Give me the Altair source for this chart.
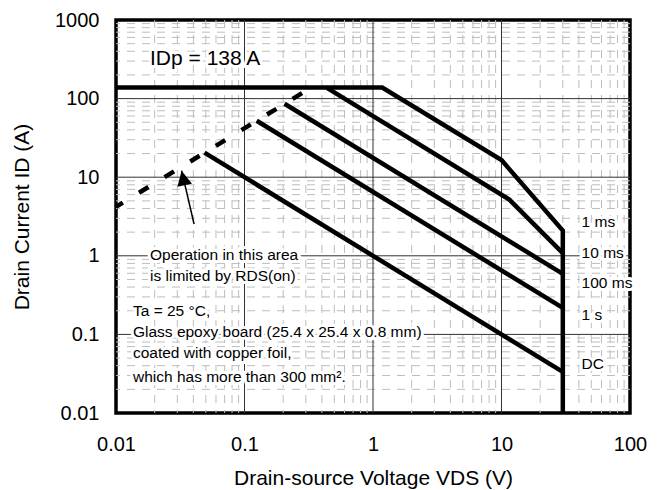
import altair as alt
import pandas as pd

FONT = "Liberation Sans"

# Safe operating area boundaries: drain-source voltage (V) and drain current (A)
ms1_v = [0.01, 1.18, 10, 30, 30]
ms1_i = [138, 138, 16.5, 2.1, 0.01]
ms10_v = [0.435, 11.5, 30]
ms10_i = [138, 5.2, 1.08]
ms100_v = [0.205, 30]
ms100_i = [86, 0.59]
s1_v = [0.1244, 30]
s1_i = [52.3, 0.217]
dc_v = [0.0488, 30]
dc_i = [20.5, 0.0333]

# On-resistance limit (dashed)
rds_v = [0.01, 0.33]
rds_i = [4.2, 138]

# Arrow pointing at the RDS(on) limit
arrow_v = [0.0405, 0.0324]
arrow_i = [2.54, 12.1]

# Pulse-width labels at the right-hand side
pulse_labels = ["1 ms", "10 ms", "100 ms", "1 s", "DC"]
pulse_label_v = [42, 42, 42, 42, 42]
pulse_label_i = [2.72, 1.08, 0.457, 0.175, 0.0423]

# Notes inside the plot
note_lines = [
    "Operation in this area",
    "is limited by RDS(on)",
    "Ta = 25 °C,",
    "Glass epoxy board (25.4 x 25.4 x 0.8 mm)",
    "coated with copper foil,",
    "which has more than 300 mm².",
]
note_v = [0.0184, 0.0184, 0.01355, 0.01355, 0.01355, 0.01355]
note_i = [1.02, 0.553, 0.1986, 0.1064, 0.0575, 0.029]

peak_text = ["IDp = 138 A"]
peak_v = [0.0184]
peak_i = [317]

x_ticks = [0.01, 0.1, 1, 10, 100]
y_ticks = [0.01, 0.1, 1, 10, 100, 1000]
decades_x = [0.01, 0.1, 1, 10]
decades_y = [0.01, 0.1, 1, 10, 100]
minor_x = [d * k for d in decades_x for k in range(2, 10)]
minor_y = [d * k for d in decades_y for k in range(2, 10)]

# ---- tables -------------------------------------------------------------
curve_rows = []
for name, vs, cs in [("1 ms", ms1_v, ms1_i), ("10 ms", ms10_v, ms10_i),
                     ("100 ms", ms100_v, ms100_i), ("1 s", s1_v, s1_i),
                     ("DC", dc_v, dc_i)]:
    for k, (v, c) in enumerate(zip(vs, cs)):
        curve_rows.append({"curve": name, "order": k, "v": v, "i": c})
curves_df = pd.DataFrame(curve_rows)
rds_df = pd.DataFrame({"v": rds_v, "i": rds_i, "order": [0, 1]})
arrow_df = pd.DataFrame({"v": arrow_v, "i": arrow_i, "order": [0, 1]})
tip_df = arrow_df.iloc[[1]]
pulse_df = pd.DataFrame({"text": pulse_labels, "v": pulse_label_v, "i": pulse_label_i})
note_df = pd.DataFrame({"text": note_lines, "v": note_v, "i": note_i})
peak_df = pd.DataFrame({"text": peak_text, "v": peak_v, "i": peak_i})
minor_x_df = pd.DataFrame({"v": minor_x})
minor_y_df = pd.DataFrame({"i": minor_y})
major_x_df = pd.DataFrame({"v": x_ticks[1:-1]})
major_y_df = pd.DataFrame({"i": y_ticks[1:-1]})

# ---- scales and axes ----------------------------------------------------
x_scale = alt.Scale(type="log", domain=[0.01, 100], nice=False)
y_scale = alt.Scale(type="log", domain=[0.01, 1000], nice=False)

x_axis = alt.Axis(
    values=x_ticks, format="~g", grid=False, ticks=False, tickSize=0,
    domain=False, labelFont=FONT, labelFontSize=20, labelColor="black",
    labelPadding=21, labelFlush=False, labelOverlap=False,
    title="Drain-source Voltage VDS (V)", titleFont=FONT, titleFontSize=21,
    titleFontWeight="normal", titleColor="black", titleY=71,
    titleBaseline="alphabetic",
)
y_axis = alt.Axis(
    values=y_ticks, format="~g", grid=False, ticks=False, tickSize=0,
    domain=False, labelFont=FONT, labelFontSize=20, labelColor="black",
    labelPadding=17, labelFlush=False, labelOverlap=False,
    title="Drain Current ID (A)", titleFont=FONT, titleFontSize=21,
    titleFontWeight="normal", titleColor="black", titleX=-88,
    titleBaseline="alphabetic",
)

X = alt.X("v:Q", scale=x_scale, axis=x_axis)
Y = alt.Y("i:Q", scale=y_scale, axis=y_axis)

# ---- grid ---------------------------------------------------------------
grid_minor_x = alt.Chart(minor_x_df).mark_rule(
    color="#bdbdbd", strokeWidth=1, strokeDash=[8, 7]).encode(x=X)
grid_minor_y = alt.Chart(minor_y_df).mark_rule(
    color="#bdbdbd", strokeWidth=1, strokeDash=[8, 7]).encode(y=Y)
grid_major_x = alt.Chart(major_x_df).mark_rule(
    color="#333333", strokeWidth=1).encode(x=X)
grid_major_y = alt.Chart(major_y_df).mark_rule(
    color="#333333", strokeWidth=1).encode(y=Y)


def text_pair(df, size):
    """White halo underneath, black text on top."""
    halo = alt.Chart(df).mark_text(
        align="left", baseline="middle", font=FONT, fontSize=size,
        color="white", stroke="white", strokeWidth=6,
    ).encode(x=X, y=Y, text="text:N")
    ink = alt.Chart(df).mark_text(
        align="left", baseline="middle", font=FONT, fontSize=size,
        color="black",
    ).encode(x=X, y=Y, text="text:N")
    return halo, ink


peak_halo, peak_ink = text_pair(peak_df, 21)
note_halo, note_ink = text_pair(note_df, 15.5)
pulse_halo, pulse_ink = text_pair(pulse_df, 15.5)

# ---- curves -------------------------------------------------------------
soa = alt.Chart(curves_df).mark_line(
    color="black", strokeWidth=4.5, strokeJoin="miter").encode(
    x=X, y=Y, detail="curve:N", order="order:Q")
rds = alt.Chart(rds_df).mark_line(
    color="black", strokeWidth=4.5, strokeDash=[11, 19], strokeDashOffset=3,
    strokeCap="butt").encode(x=X, y=Y, order="order:Q")
arrow_shaft = alt.Chart(arrow_df).mark_line(
    color="black", strokeWidth=1.5).encode(x=X, y=Y, order="order:Q")
arrow_head = alt.Chart(tip_df).mark_point(
    shape="M0,0L-1,2L1,2Z", size=220, filled=True, color="black",
    opacity=1, angle=348).encode(x=X, y=Y)

chart = alt.layer(
    grid_minor_x, grid_minor_y, grid_major_x, grid_major_y,
    peak_halo, note_halo, pulse_halo,
    soa, rds, arrow_shaft, arrow_head,
    peak_ink, note_ink, pulse_ink,
).properties(
    width=514, height=393,
    padding={"left": 116, "top": 20, "right": 32, "bottom": 77},
    autosize=alt.AutoSizeParams(type="none"),
    background="white",
).configure_view(stroke="black", strokeWidth=3.5)

chart.save("out.html", embed_options={"renderer": "svg", "actions": False})
